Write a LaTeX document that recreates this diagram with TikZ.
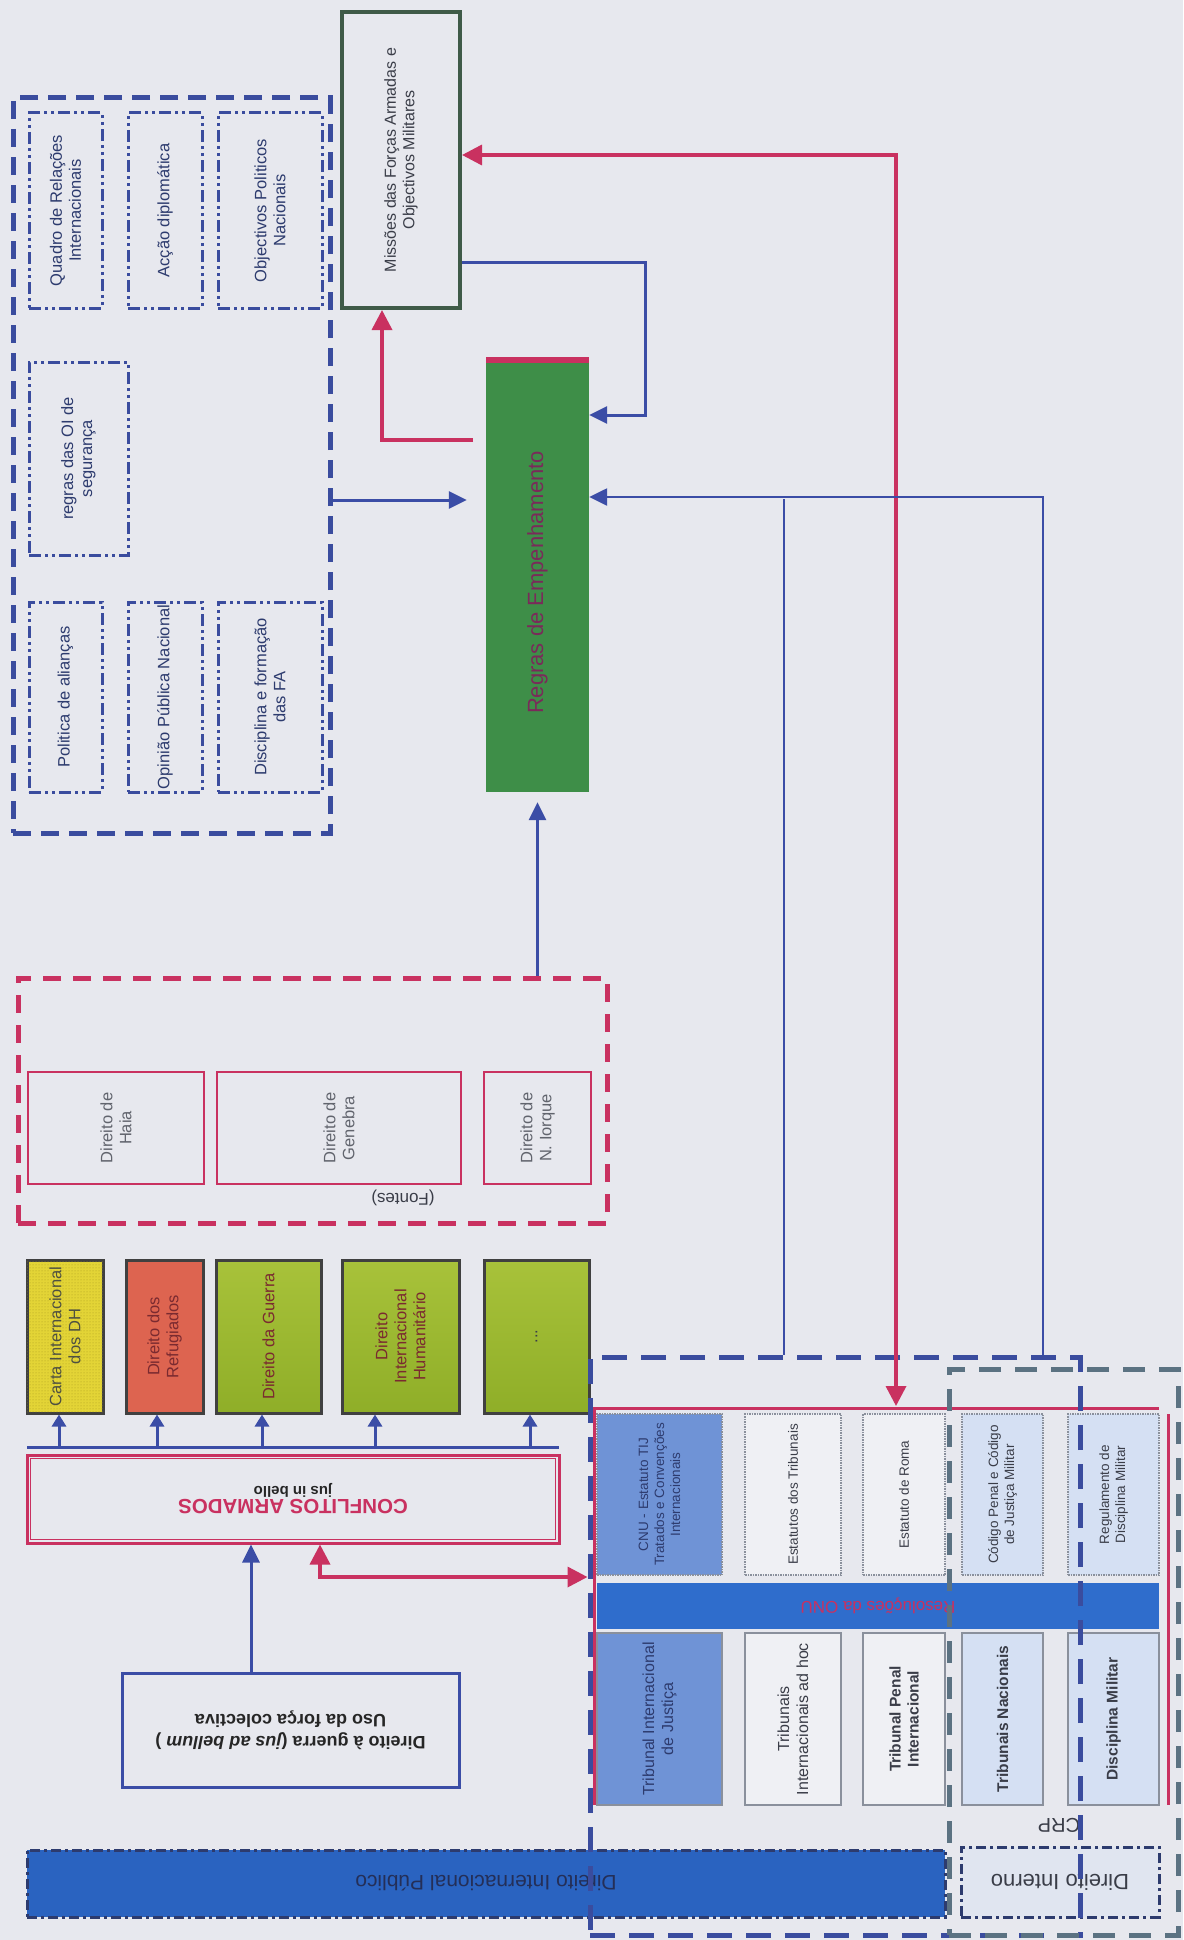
\documentclass[tikz,border=0pt]{standalone}
\usepackage{fontspec}
\setmainfont{Liberation Sans}
\usetikzlibrary{arrows.meta,fit,patterns}
\definecolor{bg}{HTML}{E7E8EE}
\definecolor{navy}{HTML}{3A4C9E}
\definecolor{navytxt}{HTML}{2D3B6E}
\definecolor{lnblue}{HTML}{3B4DA6}
\definecolor{crim}{HTML}{C93160}
\definecolor{regg}{HTML}{3E8E48}
\definecolor{misg}{HTML}{3F5A48}
\definecolor{yel}{HTML}{E3D436}
\definecolor{dotc}{HTML}{A89A20}
\definecolor{sal}{HTML}{DD6450}
\definecolor{olvA}{HTML}{A8C23A}
\definecolor{olvB}{HTML}{8FAE28}
\definecolor{midb}{HTML}{6F93D6}
\definecolor{ltb}{HTML}{D5E0F3}
\definecolor{barb}{HTML}{2F6DCC}
\definecolor{dipb}{HTML}{2A63C0}
\definecolor{gdash}{HTML}{5B7282}
\definecolor{whb}{HTML}{EFF0F4}
\definecolor{boxgray}{HTML}{8A909C}
\definecolor{maroon}{HTML}{7A2A30}
\definecolor{darktxt}{HTML}{3A3D48}
\definecolor{regtxt}{HTML}{7A2A5A}
\begin{document}
\begin{tikzpicture}[x=1pt,y=-1pt,
  fb/.style={inner sep=0pt},
  tldash/.style={draw=navy, line width=5pt, dash pattern=on 18pt off 10pt},
  ddot/.style={draw=navy, line width=3pt, dash pattern=on 12pt off 4pt on 3pt off 4pt on 3pt off 4pt},
  ddotdark/.style={draw=navytxt, line width=3pt, dash pattern=on 10pt off 4pt on 3pt off 4pt},
  txtA/.style={font=\fontsize{16.5}{19}\selectfont, align=center, rotate=90, text=navytxt},
  txtF/.style={font=\fontsize{16.5}{19}\selectfont, align=center, rotate=90, text=darktxt!80},
  txtC/.style={font=\fontsize{16.5}{19}\selectfont, align=center, rotate=90, text=maroon},
  txtS/.style={font=\fontsize{13.5}{16}\selectfont, align=center, rotate=90, text=darktxt},
  txtL/.style={font=\fontsize{16}{19}\selectfont, align=center, rotate=90, text=darktxt},
  txtLB/.style={font=\bfseries\fontsize{15.5}{18}\selectfont, align=center, rotate=90, text=darktxt},
  cbox/.style={draw=black!75, line width=3pt, inner sep=0pt},
  redbox/.style={draw=crim, line width=2.5pt, inner sep=0pt},
  topb/.style={draw=boxgray, line width=1.5pt, densely dotted, inner sep=0pt},
  botb/.style={draw=boxgray, line width=1.5pt, inner sep=0pt},
  bl/.style={draw=lnblue, line width=3pt},
  blthin/.style={draw=lnblue, line width=2.5pt},
  rl/.style={draw=crim, line width=3.5pt},
  arrB/.style={-{Triangle[length=18pt,width=17pt]}},
  arrR/.style={-{Triangle[length=20pt,width=20pt]}},
  arrRR/.style={{Triangle[length=20pt,width=20pt]}-{Triangle[length=20pt,width=20pt]}},
  arrS/.style={-{Triangle[length=12pt,width=14pt]}}
]
\useasboundingbox (0,0) rectangle (1183,1940);
\fill[bg] (0,0) rectangle (1183,1940);

% ---------- top-left group ----------
\node[fb, tldash, fit={(13,98) (330,833)}] (tl) {};
\node[fb, ddot, fit={(29,113) (102,308)}] (q1) {};
\node[txtA] (q1t) at (q1) {Quadro de Relações\\Internacionais};
\node[fb, ddot, fit={(128,113) (202,308)}] (q2) {};
\node[txtA] (q2t) at (q2) {Acção diplomática};
\node[fb, ddot, fit={(218,113) (322,308)}] (q3) {};
\node[txtA] (q3t) at (q3) {Objectivos Politicos\\Nacionais};
\node[fb, ddot, fit={(29,362) (128,555)}] (q4) {};
\node[txtA] (q4t) at (q4) {regras das OI de\\segurança};
\node[fb, ddot, fit={(29,602) (102,792)}] (q5) {};
\node[txtA] (q5t) at (q5) {Politica de alianças};
\node[fb, ddot, fit={(128,602) (202,792)}] (q6) {};
\node[txtA] (q6t) at (q6) {Opinião Pública Nacional};
\node[fb, ddot, fit={(218,602) (322,792)}] (q7) {};
\node[txtA] (q7t) at (q7) {Disciplina e formação\\das FA};

% ---------- Missoes and Regras ----------
\node[fb, draw=misg, line width=4pt, fit={(342,12) (460,308)}] (miss) {};
\node[txtA, text=darktxt, font=\fontsize{16}{18.5}\selectfont] (misst) at (miss) {Missões das Forças Armadas e\\Objectivos Militares};
\node[fb, fill=regg, fit={(486,357) (589,792)}] (reg) {};
\fill[crim] (reg.north west) rectangle ([yshift=-6pt]reg.north east);
\node[font=\fontsize{22}{26}\selectfont, rotate=90, text=regtxt] (regt) at ([yshift=-8pt]reg.center) {Regras de Empenhamento};

% ---------- Fontes ----------
\node[fb, draw=crim, line width=5pt, dash pattern=on 18pt off 12pt, fit={(18,978) (607,1223)}] (font) {};
\node[redbox, fit={(28,1072) (204,1184)}] (haia) {};
\node[txtF] (haiat) at (haia) {Direito de\\Haia};
\node[redbox, fit={(217,1072) (461,1184)}] (gen) {};
\node[txtF] (gent) at (gen) {Direito de\\Genebra};
\node[redbox, fit={(484,1072) (591,1184)}] (nyk) {};
\node[txtF] (nykt) at (nyk) {Direito de\\N. Iorque};
\node[font=\fontsize{17}{20}\selectfont, rotate=180, text=darktxt] (fontlbl) at (403,1198) {(Fontes)};

% ---------- coloured boxes ----------
\node[cbox, fill=yel, postaction={pattern=dots, pattern color=dotc}, fit={(27,1260) (103,1413)}] (carta) {};
\node[txtC, text=darktxt!90!yellow] (cartat) at (carta) {Carta Internacional\\dos DH};
\node[cbox, fill=sal, fit={(126,1260) (203,1413)}] (refu) {};
\node[txtC] (refut) at (refu) {Direito dos\\Refugiados};
\node[cbox, top color=olvA, bottom color=olvB, fit={(216,1260) (321,1413)}] (guer) {};
\node[txtC] (guert) at (guer) {Direito da Guerra};
\node[cbox, top color=olvA, bottom color=olvB, fit={(342,1260) (459,1413)}] (dih) {};
\node[txtC] (diht) at (dih) {Direito\\Internacional\\Humanitário};
\node[cbox, top color=olvA, bottom color=olvB, fit={(484,1260) (589,1413)}] (etc) {};
\node[txtC, text=darktxt] (etct) at (etc) {...};

% ---------- Conflitos armados ----------
\node[fb, draw=crim, line width=3pt, fit={(27,1455) (559,1543)}] (conf) {};
\draw[crim, line width=1.5pt] ([shift={(5pt,-5pt)}]conf.north west) rectangle ([shift={(-5pt,5pt)}]conf.south east);
\node[rotate=180, align=center] (conft) at (conf) {{\bfseries\fontsize{20.5}{24}\selectfont\color{crim}CONFLITOS ARMADOS}\\[1pt]{\bfseries\fontsize{15}{18}\selectfont\color{black!85}jus in bello}};

\node[fb, draw=lnblue, line width=3pt, fit={(122,1673) (459,1787)}] (guerra) {};
\node[rotate=180, align=center, font=\bfseries\fontsize{18}{22}\selectfont, text=black!85] (guerrat) at (guerra) {Direito à guerra ({\itshape jus ad bellum} )\\Uso da força colectiva};

% ---------- bottom block ----------
\node[topb, fill=midb, fit={(597,1414) (722,1575)}] (cnu) {};
\node[txtS, text=navytxt] (cnut) at (cnu) {CNU - Estatuto TIJ\\Tratados e Convenções\\Internacionais};
\node[topb, fill=whb, fit={(745,1414) (841,1575)}] (esttr) {};
\node[txtS] (esttrt) at (esttr) {Estatutos dos Tribunais};
\node[topb, fill=whb, fit={(863,1414) (945,1575)}] (roma) {};
\node[txtS] (romat) at (roma) {Estatuto de Roma};
\node[topb, fill=ltb, fit={(962,1414) (1043,1575)}] (cpen) {};
\node[txtS] (cpent) at (cpen) {Código Penal e Código\\de Justiça Militar};
\node[topb, fill=ltb, fit={(1068,1414) (1159,1575)}] (regdm) {};
\node[txtS] (regdmt) at (regdm) {Regulamento de\\Disciplina Militar};

\node[fb, fill=barb, fit={(597,1583) (1159,1629)}] (reso) {};
\node[rotate=180, font=\fontsize{17}{20}\selectfont, text=crim] (resot) at (reso) {Resoluções da ONU};

\node[botb, fill=midb, fit={(597,1633) (722,1805)}] (tij) {};
\node[txtL, text=navytxt] (tijt) at (tij) {Tribunal Internacional\\de Justiça};
\node[botb, fill=whb, fit={(745,1633) (841,1805)}] (adhoc) {};
\node[txtL] (adhoct) at (adhoc) {Tribunais\\Internacionais ad hoc};
\node[botb, fill=whb, fit={(863,1633) (945,1805)}] (tpi) {};
\node[txtLB] (tpit) at (tpi) {Tribunal Penal\\Internacional};
\node[botb, fill=ltb, fit={(962,1633) (1043,1805)}] (tnac) {};
\node[txtLB] (tnact) at (tnac) {Tribunais Nacionais};
\node[botb, fill=ltb, fit={(1068,1633) (1159,1805)}] (dmil) {};
\node[txtLB] (dmilt) at (dmil) {Disciplina Militar};

% red frame lines
\draw[crim, line width=3pt] (594,1805) -- (594,1408) -- (1159,1408);
\draw[crim, line width=3pt] (1168,1414) -- (1168,1805);

\node[font=\fontsize{20}{24}\selectfont, rotate=180, text=darktxt] (crp) at (1059,1825) {CRP};

\node[fb, fill=dipb, ddotdark, fit={(27,1850) (945,1917)}] (dip) {};
\node[rotate=180, font=\fontsize{21}{25}\selectfont, text=navytxt!80!black] (dipt) at (dip) {Direito Internacional Público};
\node[fb, fill=bg!60!ltb, ddotdark, fit={(961,1847) (1159,1917)}] (dint) {};
\node[rotate=180, font=\fontsize{22}{26}\selectfont, text=darktxt] (dintt) at (dint) {Direito Interno};

% dashed regions
\node[fb, draw=navy, line width=5pt, dash pattern=on 25pt off 14pt, fit={(590,1357) (1080,1935)}] (dib) {};
\node[fb, draw=gdash, line width=5pt, dash pattern=on 22pt off 14pt, fit={(949,1369) (1178,1935)}] (dnb) {};

% ---------- connectors ----------
\coordinate (rA) at (896,155);
\coordinate (rB) at (896,1406);
\draw[rl, arrRR] (miss.east |- rA) -- (rA) -- (rB);

\coordinate (bA) at (645,262);
\coordinate (bB) at (645,415);
\draw[bl, arrB] (miss.east |- bA) -- (bA) -- (bB) -- (reg.east |- bB);

\coordinate (rC) at (473,440);
\coordinate (rD) at (382,440);
\draw[rl, arrR] (rC) -- (rD) -- (miss.south -| rD);

\coordinate (bC) at (330,500);
\draw[bl, arrB, shorten >=19pt] (tl.east |- bC) -- (reg.west |- bC);

\draw[bl, arrB, shorten >=10pt] (font.north -| reg.south) -- (reg.south);

\coordinate (bD) at (1043,497);
\draw[blthin, arrB] (dib.north -| bD) -- (bD) -- (reg.east |- bD);
\coordinate (bE) at (784,499);
\draw[blthin] (dib.north -| bE) -- (bE);

% bar above Conflitos and arrows to the coloured boxes
\coordinate (barL) at (27,1447);
\coordinate (barR) at (559,1447);
\draw[bl] (barL) -- (barR);
\coordinate (a1) at (59,1447);
\coordinate (a2) at (157,1447);
\coordinate (a3) at (262,1447);
\coordinate (a4) at (375,1447);
\coordinate (a5) at (530,1447);
\draw[bl, arrS] (a1) -- (carta.south -| a1);
\draw[bl, arrS] (a2) -- (refu.south -| a2);
\draw[bl, arrS] (a3) -- (guer.south -| a3);
\draw[bl, arrS] (a4) -- (dih.south -| a4);
\draw[bl, arrS] (a5) -- (etc.south -| a5);

\coordinate (a6) at (251,1600);
\draw[bl, arrB] (guerra.north -| a6) -- (conf.south -| a6);

\coordinate (rE) at (320,1577);
\draw[rl, arrRR] (conf.south -| rE) -- (rE) -- (dib.west |- rE);
\end{tikzpicture}
\end{document}
